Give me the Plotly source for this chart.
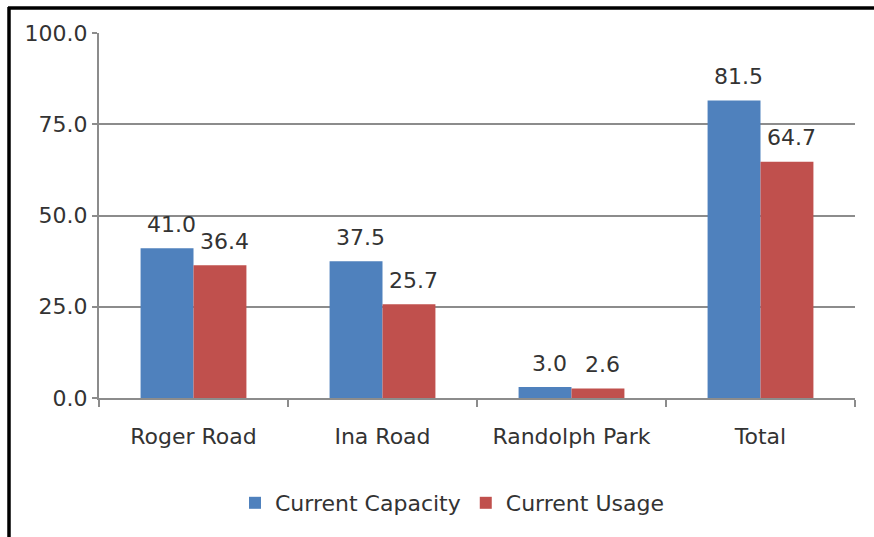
import plotly.graph_objects as go

categories = ["Roger Road", "Ina Road", "Randolph Park", "Total"]
capacity = [41.0, 37.5, 3.0, 81.5]
usage = [36.4, 25.7, 2.6, 64.7]
series_names = ["Current Capacity", "Current Usage"]
y_ticks = [0, 25, 50, 75, 100]

BLUE = "#4F81BD"
RED = "#C0504D"
GRID = "#8C8C8C"
TEXT = "#333333"
FONT = "DejaVu Sans"

W, H = 874, 537
ML, MR, MT, MB = 99, 19, 33, 139
PW, PH = W - ML - MR, H - MT - MB

fig = go.Figure()
fig.add_trace(go.Bar(x=categories, y=capacity, name=series_names[0],
                     marker=dict(color=BLUE, line=dict(width=0))))
fig.add_trace(go.Bar(x=categories, y=usage, name=series_names[1],
                     marker=dict(color=RED, line=dict(width=0))))

# value labels above each bar
half_bar = 26.5
annotations = []
for vals, shift in ((capacity, -half_bar + 4), (usage, half_bar + 4)):
    for cat, v in zip(categories, vals):
        annotations.append(dict(
            x=cat, y=v, xref="x", yref="y", text=f"{v:.1f}",
            showarrow=False, xshift=shift, yshift=24,
            xanchor="center", yanchor="middle",
            font=dict(family=FONT, size=22, color=TEXT)))


def px_x(p):
    return (p - ML) / PW


def px_y(p):
    return (H - MB - p) / PH


# outer frame: top and left edges
shapes = [
    dict(type="line", xref="paper", yref="paper",
         x0=px_x(8), x1=px_x(W + 5), y0=px_y(8), y1=px_y(8),
         line=dict(color="#000000", width=3.5)),
    dict(type="line", xref="paper", yref="paper",
         x0=px_x(9), x1=px_x(9), y0=px_y(7), y1=px_y(H + 5),
         line=dict(color="#000000", width=3.5)),
]

fig.update_layout(
    width=W, height=H,
    margin=dict(l=ML, r=MR, t=MT, b=MB, autoexpand=False),
    paper_bgcolor="white", plot_bgcolor="white",
    barmode="group", bargap=0.44, bargroupgap=0,
    font=dict(family=FONT, size=22, color=TEXT),
    annotations=annotations, shapes=shapes,
    showlegend=True,
    legend=dict(orientation="h", x=px_x(452), y=px_y(503),
                xanchor="center", yanchor="middle",
                font=dict(family=FONT, size=22, color=TEXT),
                itemwidth=30, tracegroupgap=0, bgcolor="rgba(0,0,0,0)"),
    xaxis=dict(
        type="category", range=[-0.5, 3.5],
        showline=True, linecolor=GRID, linewidth=2,
        ticks="outside", tickson="boundaries", ticklen=7,
        tickcolor=GRID, tickwidth=2, showgrid=False,
        ticklabelstandoff=18,
        tickfont=dict(family=FONT, size=22, color=TEXT)),
    yaxis=dict(
        range=[0, 100], tickvals=y_ticks, tickformat=".1f",
        showline=True, linecolor=GRID, linewidth=2,
        ticks="outside", ticklen=5, tickcolor=GRID, tickwidth=2,
        showgrid=True, gridcolor=GRID, gridwidth=2,
        zeroline=False,
        tickfont=dict(family=FONT, size=22, color=TEXT)),
)

fig.write_html("out.html")
